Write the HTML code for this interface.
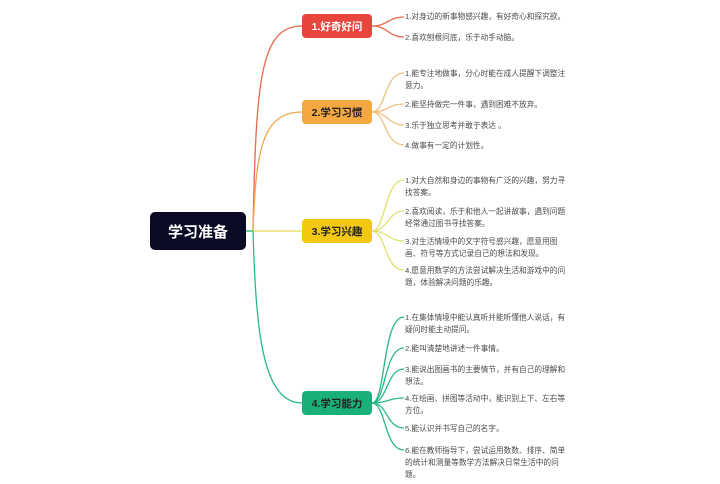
<!DOCTYPE html>
<html><head><meta charset="utf-8"><style>
body{margin:0;background:#fff;}
svg text{font-family:"Liberation Sans","Noto Sans CJK SC",sans-serif;}
.l{font-size:7.7px;fill:#4a4a4a;}
.n{font-size:10.5px;font-weight:bold;}
</style></head><body>
<svg width="720" height="479" viewBox="0 0 720 479" xmlns="http://www.w3.org/2000/svg">
<g fill="none" stroke-width="1.3">
<line x1="246" y1="231" x2="253" y2="231" stroke="#1ab07a"/>
<path d="M253 231 C256 80 260 26 302 26" stroke="#e8674c"/>
<path d="M253 231 C256 150 262 112 302 112" stroke="#f0a850"/>
<path d="M253 231 L302 231" stroke="#e8d84c"/>
<path d="M253 231 C256 330 262 403 302 403" stroke="#28b886"/>
<g stroke="#e8674c"><path d="M372 26 C388 26 388 17 404 17"/><path d="M372 26 C388 26 388 37 404 37"/></g>
<g stroke="#f0c080"><path d="M372 112 C386 112 384 73 404 73"/><path d="M372 112 C388 112 388 104 404 104"/><path d="M372 112 C388 112 388 125 404 125"/><path d="M372 112 C386 112 384 145 404 145"/></g>
<g stroke="#e0e070"><path d="M372 231 C386 231 384 180 404 180"/><path d="M372 231 C388 231 388 211 404 211"/><path d="M372 231 C388 231 388 241 404 241"/><path d="M372 231 C386 231 384 270 404 270"/></g>
<g stroke="#28b886"><path d="M372 403 C386 403 382 317 404 317"/><path d="M372 403 C386 403 384 348 404 348"/><path d="M372 403 C388 403 386 369 404 369"/><path d="M372 403 C388 403 388 398 404 398"/><path d="M372 403 C388 403 386 428 404 428"/><path d="M372 403 C386 403 384 450 404 450"/></g>
</g>
<rect x="150" y="212" width="96" height="38" rx="5" fill="#0b0b26"/>
<text x="198" y="237" text-anchor="middle" fill="#fff" font-size="15" font-weight="bold">学习准备</text>
<rect x="302" y="14" width="70" height="24" rx="4" fill="#e8453c"/>
<text x="337" y="30" text-anchor="middle" class="n" fill="#fff">1.好奇好问</text>
<rect x="302" y="100" width="70" height="24" rx="4" fill="#f5a742"/>
<text x="337" y="116" text-anchor="middle" class="n" fill="#222">2.学习习惯</text>
<rect x="302" y="219" width="70" height="24" rx="4" fill="#f2c811"/>
<text x="337" y="235" text-anchor="middle" class="n" fill="#222">3.学习兴趣</text>
<rect x="302" y="391" width="70" height="24" rx="4" fill="#1ab07a"/>
<text x="337" y="407" text-anchor="middle" class="n" fill="#222">4.学习能力</text>
<g class="l">
<text x="405" y="19">1.对身边的新事物感兴趣，有好奇心和探究欲。</text>
<text x="405" y="40">2.喜欢刨根问底，乐于动手动脑。</text>
<text x="405" y="76">1.能专注地做事，分心时能在成人提醒下调整注</text><text x="405" y="88">意力。</text>
<text x="405" y="107">2.能坚持做完一件事，遇到困难不放弃。</text>
<text x="405" y="128">3.乐于独立思考并敢于表达 。</text>
<text x="405" y="148">4.做事有一定的计划性。</text>
<text x="405" y="183">1.对大自然和身边的事物有广泛的兴趣，努力寻</text><text x="405" y="195">找答案。</text>
<text x="405" y="214">2.喜欢阅读，乐于和他人一起讲故事，遇到问题</text><text x="405" y="226">经常通过图书寻找答案。</text>
<text x="405" y="244">3.对生活情境中的文字符号感兴趣，愿意用图</text><text x="405" y="256">画、符号等方式记录自己的想法和发现。</text>
<text x="405" y="273">4.愿意用数学的方法尝试解决生活和游戏中的问</text><text x="405" y="285">题，体验解决问题的乐趣。</text>
<text x="405" y="320">1.在集体情境中能认真听并能听懂他人说话，有</text><text x="405" y="332">疑问时能主动提问。</text>
<text x="405" y="351">2.能叫清楚地讲述一件事情。</text>
<text x="405" y="372">3.能说出图画书的主要情节，并有自己的理解和</text><text x="405" y="384">想法。</text>
<text x="405" y="401">4.在绘画、拼图等活动中，能识别上下、左右等</text><text x="405" y="413">方位。</text>
<text x="405" y="431">5.能认识并书写自己的名字。</text>
<text x="405" y="453">6.能在教师指导下，尝试运用数数、排序、简单</text><text x="405" y="465">的统计和测量等数学方法解决日常生活中的问</text><text x="405" y="477">题。</text>
</g>
</svg>
</body></html>
